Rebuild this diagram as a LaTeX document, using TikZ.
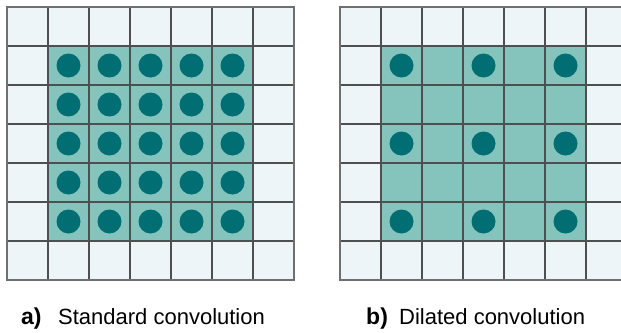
\documentclass[tikz,border=0pt]{standalone}
\usepackage{fontspec}
\setmainfont{Liberation Sans}
\definecolor{cellbg}{HTML}{EDF5F8}
\definecolor{kernel}{HTML}{85C4BC}
\definecolor{tap}{HTML}{006E73}
\definecolor{gridline}{HTML}{4D4F50}
\definecolor{frameline}{HTML}{6E7070}
\tikzset{
  gridrule/.style={draw=gridline, line width=1.9pt},
  framerule/.style={draw=frameline, line width=1.9pt},
  tapdot/.style={fill=tap},
  caption/.style={anchor=base west, inner sep=0pt, font=\fontsize{22}{26}\selectfont},
  tag/.style={caption, font=\bfseries\fontsize{23}{27}\selectfont},
}
\begin{document}
\begin{tikzpicture}[x=1pt, y=-1pt]
\useasboundingbox (0,0) rectangle (621,332);
\begin{scope}
\clip (0,0) rectangle (621,332);
% two 7x7 input grids, cells 41 wide and 39 high
\foreach \ox in {7,340} {
  \fill[cellbg] (\ox,7) rectangle ++(287,273);
  % 5x5 receptive field
  \fill[kernel] (\ox+41,46) rectangle ++(205,195);
  \foreach \i in {1,...,6} {
    \draw[gridrule] (\ox+41*\i,7) -- ++(0,273);
    \draw[gridrule] (\ox,7+39*\i) -- ++(287,0);
  }
  \draw[framerule] (\ox,7) rectangle ++(287,273);
}
% standard convolution: every cell of the 5x5 field is sampled
\foreach \c in {1,...,5}
  \foreach \r in {1,...,5}
    \fill[tapdot] (7+41*\c+20.5, 7+39*\r+19.5) circle[radius=12pt];
% dilated convolution: every second cell is sampled
\foreach \c in {1,3,5}
  \foreach \r in {1,3,5}
    \fill[tapdot] (340+41*\c+20.5, 7+39*\r+19.5) circle[radius=12pt];
\end{scope}
% captions
\node[tag] (tagA) at (21,324) {a)};
\node[caption] (capA) at (58,324) {Standard convolution};
\node[tag] (tagB) at (366,324) {b)};
\node[caption] (capB) at (399,324) {Dilated convolution};
\end{tikzpicture}
\end{document}
